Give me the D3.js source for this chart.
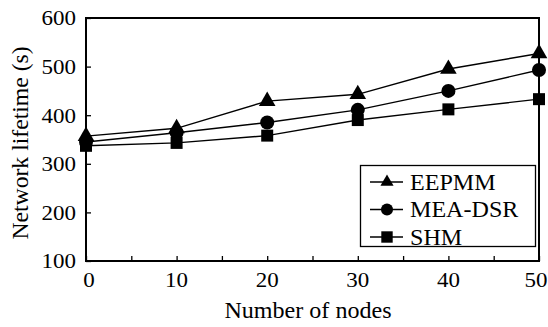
<!DOCTYPE html>
<html>
<head>
<meta charset="utf-8">
<script src="https://cdn.jsdelivr.net/npm/d3@7"></script>
<style>
  html, body { margin: 0; padding: 0; background: #fff; }
  svg { display: block; }
  text { font-family: "Liberation Serif", "Times New Roman", serif; fill: #000; }
</style>
</head>
<body>
<svg id="chart" width="548" height="327"></svg>
<script>
const nodes = [0, 10, 20, 30, 40, 50];
const eepmm = [357, 373, 429, 443, 495, 527];
const meaDsr = [345, 364, 385, 411, 450, 493];
const shm = [337, 343, 358, 390, 412, 433];
const seriesNames = ["EEPMM", "MEA-DSR", "SHM"];
const xTicks = [0, 10, 20, 30, 40, 50];
const xMinorTicks = [0, 5, 10, 15, 20, 25, 30, 35, 40, 45, 50];
const yTicks = [100, 200, 300, 400, 500, 600];
const xTitle = "Number of nodes";
const yTitle = "Network lifetime (s)";

const series = [
  { name: seriesNames[0], values: eepmm, symbol: d3.symbolTriangle, size: 120, lsize: 75 },
  { name: seriesNames[1], values: meaDsr, symbol: d3.symbolCircle, size: 155, lsize: 115 },
  { name: seriesNames[2], values: shm, symbol: d3.symbolSquare, size: 144, lsize: 130 }
];

const SX = 1.07; // horizontal stretch of text seen in the reference

const svg = d3.select("#chart");
const x = d3.scaleLinear().domain([0, 50]).range([86, 539]);
const y = d3.scaleLinear().domain([100, 600]).range([261, 18]);

function label(g, tx, ty, rot) {
  return g.append("text")
    .attr("transform", `translate(${tx},${ty})` + (rot ? ` rotate(${rot})` : "") + ` scale(${SX},1)`);
}

// frame
svg.append("rect")
  .attr("x", x(0)).attr("y", y(600))
  .attr("width", x(50) - x(0)).attr("height", y(100) - y(600))
  .attr("fill", "none").attr("stroke", "#000").attr("stroke-width", 2);

// x axis (inward ticks)
const xAxis = svg.append("g").attr("transform", `translate(0,${y(100)})`)
  .call(d3.axisBottom(x).tickValues(xMinorTicks).tickSize(-5).tickFormat(""));
xAxis.select(".domain").remove();
xAxis.selectAll(".tick line").attr("stroke", "#000").attr("stroke-width", 1.3);

const xl = svg.append("g");
xTicks.forEach(d => {
  label(xl, x(d) + (d === 0 ? 3 : d === 50 ? -3 : 0), 287)
    .attr("text-anchor", "middle")
    .attr("font-size", 21.5)
    .text(d);
});

// y axis (inward ticks)
const yAxis = svg.append("g").attr("transform", `translate(${x(0)},0)`)
  .call(d3.axisLeft(y).tickValues(yTicks).tickSize(-5).tickFormat(""));
yAxis.select(".domain").remove();
yAxis.selectAll(".tick line").attr("stroke", "#000").attr("stroke-width", 1.3);

const yl = svg.append("g");
yTicks.forEach(d => {
  label(yl, 76, y(d))
    .attr("dy", "0.34em")
    .attr("text-anchor", "end")
    .attr("font-size", 21.5)
    .text(d);
});

// titles
label(svg, 308, 318)
  .attr("text-anchor", "middle")
  .attr("font-size", 22.5)
  .text(xTitle);

svg.append("text")
  .attr("transform", "translate(28,143) rotate(-90) scale(1.03,1)")
  .attr("text-anchor", "middle")
  .attr("font-size", 23)
  .text(yTitle);

// lines and markers
const line = d3.line().x((d, i) => x(nodes[i])).y(d => y(d));
series.forEach(s => {
  svg.append("path")
    .datum(s.values)
    .attr("d", line)
    .attr("fill", "none")
    .attr("stroke", "#000")
    .attr("stroke-width", 1.4);
  svg.append("g").selectAll("path").data(s.values).join("path")
    .attr("transform", (d, i) => `translate(${x(nodes[i])},${y(d)})`)
    .attr("d", d3.symbol(s.symbol, s.size))
    .attr("fill", "#000");
});

// legend
const lg = svg.append("g");
lg.append("rect")
  .attr("x", 360.5).attr("y", 165.5)
  .attr("width", 175).attr("height", 81)
  .attr("fill", "#fff").attr("stroke", "#000").attr("stroke-width", 1.3);
series.forEach((s, i) => {
  const cy = 182 + i * 27.5;
  lg.append("line")
    .attr("x1", 370).attr("x2", 403).attr("y1", cy).attr("y2", cy)
    .attr("stroke", "#000").attr("stroke-width", 1.4);
  lg.append("path")
    .attr("transform", `translate(387,${cy})`)
    .attr("d", d3.symbol(s.symbol, s.lsize))
    .attr("fill", "#000");
  label(lg, 410, cy)
    .attr("dy", "0.35em")
    .attr("font-size", 22.5)
    .text(s.name);
});
</script>
</body>
</html>
